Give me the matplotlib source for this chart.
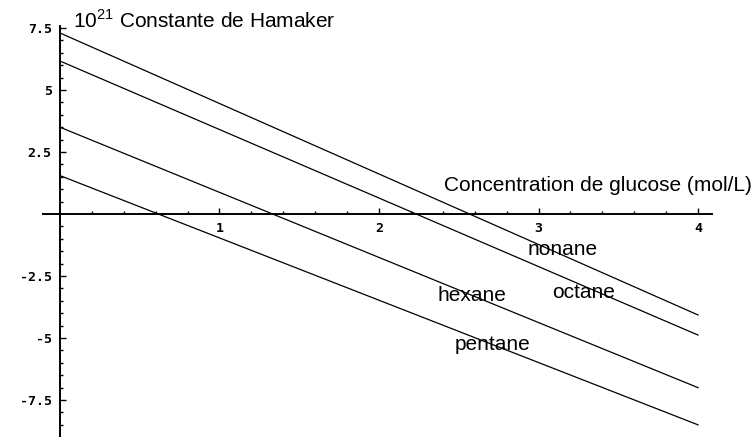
import numpy as np
import matplotlib
matplotlib.use("Agg")
import matplotlib.pyplot as plt
from matplotlib.ticker import FixedLocator

plt.rcParams['font.family'] = ['Liberation Sans', 'DejaVu Sans']
plt.rcParams['mathtext.fontset'] = 'custom'
plt.rcParams['mathtext.rm'] = 'Liberation Sans'

# concentration de glucose (mol/L)
concentration = [0, 4]
# Hamaker constant x 10^21, read at the two ends of each line
nonane = [7.3, -4.07]
octane = [6.17, -4.88]
hexane = [3.5, -7.0]
pentane = [1.55, -8.5]

series_names = ["nonane", "octane", "hexane", "pentane"]
series_values = [nonane, octane, hexane, pentane]
label_pos = {
    "nonane": (3.15, -1.45),
    "octane": (3.28, -3.15),
    "hexane": (2.58, -3.27),
    "pentane": (2.71, -5.28),
}

x_ticks = [1, 2, 3, 4]
y_ticks = [-7.5, -5, -2.5, 2.5, 5, 7.5]
y_tick_labels = ["-7.5", "-5", "-2.5", "2.5", "5", "7.5"]

fig = plt.figure(figsize=(7.54, 4.37), dpi=100)
ax = fig.add_axes([0, 0, 1, 1])

for name, vals in zip(series_names, series_values):
    ax.plot(concentration, vals, color='black', lw=0.9)
    lx, ly = label_pos[name]
    ax.text(lx, ly, name, ha='center', va='center', fontsize=15)

ax.set_xlim(-0.376, 4.351)
ax.set_ylim(-8.99, 8.63)

for s in ['top', 'right']:
    ax.spines[s].set_visible(False)
ax.spines['left'].set_position(('data', 0))
ax.spines['bottom'].set_position(('data', 0))
ax.spines['left'].set_bounds(-9.2, 7.6)
ax.spines['bottom'].set_bounds(-0.107, 4.09)
ax.spines['left'].set_linewidth(1.4)
ax.spines['bottom'].set_linewidth(1.4)

ax.set_xticks(x_ticks)
ax.set_xticklabels([str(t) for t in x_ticks])
x_minor = [m for m in np.round(np.arange(0.2, 4.0, 0.2), 2) if m % 1 != 0]
ax.xaxis.set_minor_locator(FixedLocator(x_minor))
ax.set_yticks(y_ticks)
ax.set_yticklabels(y_tick_labels)
y_minor = [m for m in np.arange(-9.0, 7.6, 0.5) if m % 2.5 != 0]
ax.yaxis.set_minor_locator(FixedLocator(y_minor))

ax.tick_params(which='major', direction='in', length=4.5, width=1.0)
ax.tick_params(which='minor', direction='in', length=2.2, width=1.0)
ax.tick_params(axis='x', which='major', pad=6)
ax.tick_params(axis='y', which='major', pad=6)
for lab in ax.get_xticklabels() + ax.get_yticklabels():
    lab.set_family('DejaVu Sans Mono')
    lab.set_fontweight('bold')
    lab.set_fontsize(9.5)

ax.text(0.08, 7.8, r"$10^{21}$ Constante de Hamaker", fontsize=15,
        ha='left', va='center')
ax.text(2.41, 1.17, "Concentration de glucose (mol/L)", fontsize=15,
        ha='left', va='center')

fig.savefig("out.png", dpi=100)
